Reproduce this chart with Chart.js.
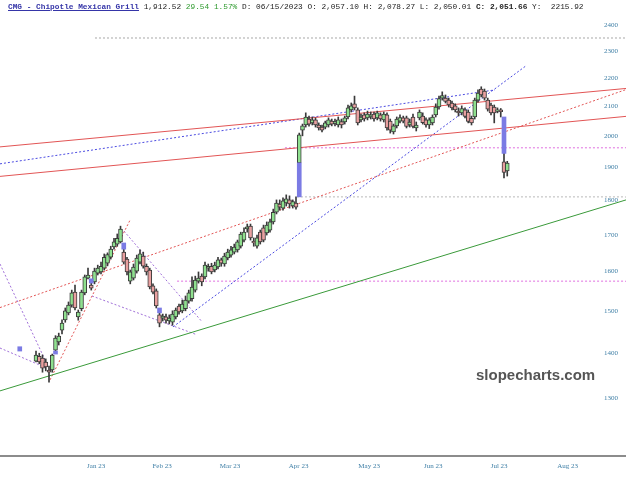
<!DOCTYPE html>
<html><head><meta charset="utf-8">
<script src="https://cdn.jsdelivr.net/npm/chart.js@4/dist/chart.umd.min.js"></script>
<style>
html,body{margin:0;padding:0;background:#fff;}
#wrap{position:relative;width:626px;height:480px;overflow:hidden;}
#c{position:absolute;left:0;top:0;}
#hdr{position:absolute;left:8px;top:3.5px;font-family:"Liberation Mono",monospace;font-size:7.8px;line-height:7.8px;white-space:pre;color:#222;}
#hdr .t{color:#3535a8;font-weight:bold;text-decoration:underline;}
#hdr .g{color:#2e9a2e;}
#wm{position:absolute;left:476px;top:366px;font-family:"Liberation Sans",Arial,sans-serif;font-weight:bold;font-size:15px;line-height:18px;color:#555;}
</style></head>
<body><div id="wrap"><canvas id="c" width="626" height="480"></canvas>
<div id="hdr"><span class="t">CMG - Chipotle Mexican Grill</span> 1,912.52 <span class="g">29.54 1.57%</span> D: 06/15/2023 O: 2,057.10 H: 2,078.27 L: 2,050.01 <b>C: 2,051.66</b> Y:  2215.92</div>
<div id="wm">slopecharts.com</div></div>
<script>
// Month labels and their positions (trading-day index)
const monthLabels = ['Jan 23','Feb 23','Mar 23','Apr 23','May 23','Jun 23','Jul 23','Aug 23'];
const monthTickPos = [18.5, 38.8, 59.7, 80.8, 102.5, 122.2, 142.5, 163.6];
const priceTicks = [1300,1400,1500,1600,1700,1800,1900,2000,2100,2200,2300,2400];

// Daily OHLC, 12/28/2022 .. 07/28/2023
const opens = [1381,1392,1388,1379,1361,1361,1406,1425,1453,1478,
1495,1514,1547,1485,1505,1545,1583,1565,1573,1596,
1599,1609,1622,1638,1666,1674,1680,1652,1633,1575,
1583,1601,1625,1641,1614,1604,1563,1550,1490,1482,
1485,1475,1472,1485,1512,1500,1505,1524,1530,1552,
1575,1588,1586,1609,1614,1604,1612,1631,1620,1636,
1644,1652,1658,1668,1685,1716,1724,1682,1668,1707,
1719,1705,1713,1736,1764,1788,1776,1791,1800,1782,
1791,1913,2019,2036,2056,2043,2053,2036,2029,2029,
2036,2049,2041,2036,2047,2046,2063,2087,2108,2087,
2053,2070,2060,2063,2073,2060,2070,2053,2070,2049,
2013,2033,2049,2060,2060,2036,2063,2026,2060,2066,
2053,2036,2043,2070,2097,2128,2128,2121,2111,2101,
2083,2077,2087,2080,2058,2063,2121,2160,2153,2121,
2104,2097,2082,2087,1916,1888];
const highs = [1404,1399,1395,1386,1370,1397,1440,1446,1478,1507,
1522,1552,1565,1502,1552,1591,1609,1570,1609,1617,
1625,1647,1650,1668,1690,1702,1724,1660,1638,1604,
1620,1644,1658,1652,1620,1609,1568,1555,1495,1492,
1492,1490,1500,1507,1517,1527,1537,1552,1586,1588,
1599,1594,1625,1620,1622,1625,1638,1636,1649,1660,
1668,1674,1685,1707,1719,1730,1730,1691,1699,1713,
1727,1736,1744,1773,1800,1800,1806,1815,1812,1800,
1809,2009,2039,2077,2066,2063,2060,2043,2036,2049,
2060,2056,2056,2063,2056,2066,2104,2111,2135,2094,
2073,2077,2083,2080,2080,2083,2077,2080,2077,2056,
2039,2063,2070,2066,2066,2056,2073,2046,2087,2077,
2060,2060,2070,2108,2135,2150,2139,2128,2118,2108,
2094,2101,2094,2087,2066,2128,2157,2168,2160,2128,
2111,2104,2094,2092,1943,1918];
const lows = [1379,1375,1356,1359,1334,1356,1404,1418,1444,1472,
1490,1509,1502,1477,1500,1540,1581,1552,1568,1591,
1594,1604,1615,1633,1660,1668,1677,1620,1591,1568,
1578,1596,1620,1609,1591,1555,1542,1507,1461,1475,
1470,1468,1465,1480,1492,1495,1500,1519,1524,1547,
1570,1563,1581,1601,1594,1599,1607,1614,1614,1631,
1638,1647,1652,1663,1680,1707,1685,1668,1663,1674,
1680,1699,1707,1730,1759,1770,1770,1782,1776,1776,
1773,1913,2000,2029,2032,2036,2029,2019,2013,2023,
2029,2033,2033,2029,2026,2039,2056,2080,2087,2036,
2046,2049,2053,2056,2049,2053,2049,2046,2019,2009,
2006,2026,2043,2043,2026,2029,2026,2016,2053,2039,
2029,2024,2036,2063,2090,2121,2111,2097,2087,2080,
2066,2070,2060,2043,2036,2056,2114,2132,2121,2083,
2070,2043,2077,2063,1866,1872];
const closes = [1395,1379,1365,1368,1356,1395,1434,1439,1470,1500,
1514,1545,1507,1497,1547,1586,1591,1557,1601,1609,
1614,1638,1645,1660,1680,1690,1716,1625,1599,1599,
1612,1636,1647,1614,1599,1560,1547,1512,1470,1487,
1477,1482,1492,1502,1497,1517,1527,1545,1560,1578,
1583,1573,1617,1614,1599,1617,1631,1622,1641,1652,
1658,1666,1680,1702,1707,1722,1691,1677,1691,1680,
1685,1727,1736,1764,1791,1779,1797,1803,1788,1795,
1779,2003,2033,2063,2039,2053,2036,2026,2019,2043,
2053,2039,2047,2053,2036,2060,2094,2101,2094,2043,
2063,2056,2073,2070,2056,2077,2056,2073,2026,2019,
2033,2056,2061,2049,2031,2046,2031,2036,2080,2044,
2036,2053,2063,2097,2126,2137,2116,2104,2094,2087,
2077,2092,2065,2048,2043,2121,2146,2139,2128,2090,
2077,2077,2087,2081,1883,1912.52];

// Price gaps (drawn as blue blocks)
const gapIdx  = [-5, 6, 17, 27, 38, 81, 144];
const gapLow  = [1404, 1397, 1570, 1660, 1495, 1809, 1943];
const gapHigh = [1414, 1404, 1581, 1677, 1507, 1913, 2063];

// Trendlines: [index, price] endpoints
const greenLine      = [[-11.08,1315],[181.54,1800]];
const redUpper       = [[-11.08,1964],[181.54,2162]];
const redLower       = [[-11.08,1871],[181.54,2065]];
const redDotLong     = [[-11.08,1508],[181.54,2158]];
const redDotSteep    = [[4.31,1339],[28.92,1741]];
const blueDotUpper   = [[-11.08,1910],[141.23,2157]];
const blueDotSteep   = [[42.15,1461],[150.77,2244]];
const purpleSteep    = [[-11.08,1620],[3.08,1379]];
const purpleShallow  = [[-11.08,1411],[3.08,1366]];
const purplePeak     = [[27.08,1710],[50.77,1476]];
const purpleMid      = [[17.23,1537],[49.54,1442]];
const grayLevelTop   = [[18.15,2349],[181.54,2349]];
const magentaLevelHi = [[76.6,1961],[181.54,1961]];
const grayLevelMid   = [[80.3,1809],[181.54,1809]];
const magentaLevelLo = [[43.4,1575],[181.54,1575]];

const UP = '#8fe08f', DOWN = '#e9a0a0', EDGE = '#3a3a3a';

function lineDs(pts, color, dash) {
  return {type:'line', data: pts.map(p => ({x:p[0], y:p[1]})), borderColor: color,
    borderWidth: 1, borderDash: dash || [], pointRadius: 0, fill: false, tension: 0, order: 10};
}

const datasets = [
  {type:'bar', data: highs.map((h,i)=>({x:i, y:[lows[i], h]})), backgroundColor: EDGE,
   barThickness: 1, grouped: false, order: 3},
  {type:'bar', data: opens.map((o,i)=>({x:i, y:[o, closes[i]]})),
   backgroundColor: ctx => closes[ctx.dataIndex] >= opens[ctx.dataIndex] ? UP : DOWN,
   borderColor: EDGE, borderWidth: 1, borderSkipped: false, barThickness: 4, grouped: false, order: 2},
  {type:'bar', data: gapIdx.map((g,k)=>({x:g, y:[gapLow[k], gapHigh[k]]})), backgroundColor: '#7b7be4',
   barThickness: 4, grouped: false, order: 1},
  lineDs(greenLine, '#3a9a3a'),
  lineDs(redUpper, '#e25555'),
  lineDs(redLower, '#e25555'),
  lineDs(redDotLong, '#e25555', [2,2]),
  lineDs(redDotSteep, '#e25555', [2,2]),
  lineDs(blueDotUpper, '#4a4ae0', [2,2]),
  lineDs(blueDotSteep, '#4a4ae0', [2,2]),
  lineDs(purpleSteep, '#a070d8', [2,2]),
  lineDs(purpleShallow, '#a070d8', [2,2]),
  lineDs(purplePeak, '#a070d8', [2,2]),
  lineDs(purpleMid, '#a070d8', [2,2]),
  lineDs(grayLevelTop, '#a8a8a8', [2,2]),
  lineDs(magentaLevelHi, '#e070e0', [2,2]),
  lineDs(grayLevelMid, '#b8b8b8', [2,2]),
  lineDs(magentaLevelLo, '#e070e0', [2,2])
];

const tickFont = {family: '"Liberation Serif", "Times New Roman", serif', size: 7};

new Chart(document.getElementById('c'), {
  type: 'bar',
  data: {datasets},
  options: {
    responsive: false, animation: false,
    layout: {padding: 0},
    plugins: {legend: {display: false}, tooltip: {enabled: false}},
    scales: {
      x: {type: 'linear', min: -11.08, max: 181.54, offset: false,
        grid: {display: false, drawTicks: false},
        border: {display: true, color: '#8c8c8c', width: 2},
        ticks: {font: tickFont, color: '#3f7fa6', padding: 6, autoSkip: false, maxRotation: 0,
          callback: (v, i) => monthLabels[i]},
        afterBuildTicks: s => { s.ticks = monthTickPos.map(v => ({value: v})); },
        afterFit: s => { s.height = 24; }
      },
      y: {type: 'logarithmic', position: 'right', min: 1181.5, max: 2500.4,
        grid: {display: false, drawTicks: false},
        border: {display: false},
        ticks: {font: tickFont, color: '#3f7fa6', mirror: true, padding: -8, autoSkip: false,
          callback: v => String(v)},
        afterBuildTicks: s => { s.ticks = priceTicks.map(v => ({value: v})); },
        afterFit: s => { s.width = 0; }
      }
    }
  }
});
</script>
</body></html>
